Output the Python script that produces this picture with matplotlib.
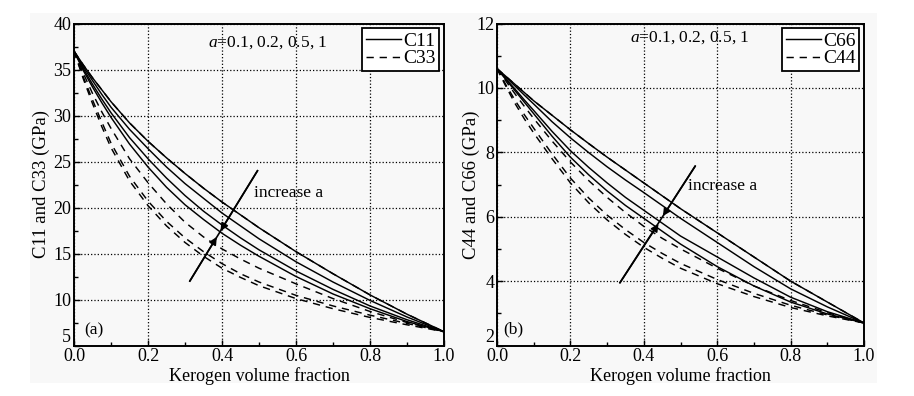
import matplotlib
matplotlib.use("Agg")
import matplotlib.pyplot as plt
from matplotlib.lines import Line2D
from matplotlib.patches import Rectangle
from matplotlib.ticker import MultipleLocator

plt.rcParams['font.family'] = ['Liberation Serif', 'DejaVu Serif']
plt.rcParams['mathtext.fontset'] = 'custom'
plt.rcParams['mathtext.rm'] = 'Liberation Serif'
plt.rcParams['mathtext.it'] = 'Liberation Serif:italic'

# ---------------- data ----------------
frac = [0, 0.025, 0.05, 0.075, 0.1, 0.15, 0.2, 0.25, 0.3, 0.35, 0.4, 0.45, 0.5,
        0.6, 0.7, 0.8, 0.9, 1.0]
aspect_labels = ['1', '0.5', '0.2', '0.1']

# panel (a)
c11_a1  = [37, 35.5, 34.1, 32.8, 31.5, 29.2, 27.2, 25.4, 23.7, 22.1, 20.6, 19.2, 17.8, 15.2, 12.8, 10.5, 8.4, 6.5]
c11_a05 = [37, 35.3, 33.8, 32.3, 30.9, 28.5, 26.4, 24.4, 22.6, 21.0, 19.4, 18.0, 16.6, 14.1, 11.9, 9.9, 8.1, 6.5]
c11_a02 = [37, 35.1, 33.4, 31.8, 30.3, 27.6, 25.3, 23.2, 21.3, 19.6, 18.1, 16.7, 15.4, 13.1, 11.1, 9.3, 7.8, 6.5]
c11_a01 = [37, 34.9, 33.1, 31.4, 29.8, 26.9, 24.4, 22.2, 20.3, 18.7, 17.2, 15.9, 14.7, 12.5, 10.6, 9.0, 7.6, 6.5]
c33_a1  = [37, 35.5, 34.1, 32.8, 31.5, 29.2, 27.2, 25.4, 23.7, 22.1, 20.6, 19.2, 17.8, 15.2, 12.8, 10.5, 8.4, 6.5]
c33_a05 = [37, 34.6, 32.4, 30.4, 28.6, 25.3, 22.7, 20.4, 18.4, 16.8, 15.5, 14.4, 13.4, 11.7, 10.1, 8.7, 7.5, 6.5]
c33_a02 = [37, 34.2, 31.7, 29.3, 27.0, 23.4, 20.7, 18.5, 16.7, 15.2, 13.9, 12.8, 11.9, 10.45, 9.3, 8.3, 7.4, 6.5]
c33_a01 = [37, 34.0, 31.3, 28.8, 26.5, 22.9, 20.2, 18.0, 16.2, 14.7, 13.4, 12.4, 11.5, 10.1, 9.0, 8.05, 7.25, 6.5]

# panel (b)
c66_a1  = [10.6, 10.35, 10.1, 9.85, 9.6, 9.15, 8.7, 8.27, 7.85, 7.45, 7.05, 6.65, 6.25, 5.5, 4.75, 4.0, 3.35, 2.7]
c66_a05 = [10.6, 10.32, 10.05, 9.77, 9.5, 8.95, 8.45, 7.99, 7.55, 7.14, 6.75, 6.35, 5.95, 5.2, 4.45, 3.76, 3.2, 2.7]
c66_a02 = [10.6, 10.27, 9.95, 9.62, 9.3, 8.65, 8.05, 7.53, 7.05, 6.6, 6.2, 5.8, 5.4, 4.75, 4.1, 3.5, 3.05, 2.7]
c66_a01 = [10.6, 10.25, 9.9, 9.55, 9.2, 8.5, 7.85, 7.3, 6.8, 6.35, 5.95, 5.55, 5.15, 4.45, 3.85, 3.35, 2.98, 2.7]
c44_a1  = [10.6, 10.35, 10.1, 9.85, 9.6, 9.15, 8.7, 8.27, 7.85, 7.45, 7.05, 6.65, 6.25, 5.5, 4.75, 4.0, 3.35, 2.7]
c44_a05 = [10.6, 10.2, 9.8, 9.42, 9.05, 8.35, 7.7, 7.12, 6.6, 6.13, 5.7, 5.33, 5.0, 4.4, 3.85, 3.4, 3.02, 2.7]
c44_a02 = [10.6, 10.08, 9.6, 9.16, 8.75, 7.95, 7.2, 6.58, 6.05, 5.6, 5.2, 4.86, 4.55, 4.05, 3.62, 3.25, 2.95, 2.7]
c44_a01 = [10.6, 10.03, 9.5, 9.03, 8.6, 7.8, 7.05, 6.43, 5.9, 5.45, 5.05, 4.71, 4.4, 3.92, 3.52, 3.18, 2.92, 2.7]

xticks = [0.0, 0.2, 0.4, 0.6, 0.8, 1.0]
xticklabels = ['0.0', '0.2', '0.4', '0.6', '0.8', '1.0']
yticks_a = [5, 10, 15, 20, 25, 30, 35, 40]
yticks_b = [2, 4, 6, 8, 10, 12]

# ---------------- figure ----------------
W, H = 914, 396
fig = plt.figure(figsize=(W / 100, H / 100), dpi=100)
fig.patch.set_facecolor('white')
fig.patches.append(Rectangle((30 / W, 1 - 383 / H), (877 - 30) / W, (383 - 13) / H,
                             transform=fig.transFigure, facecolor='#f8f8f8',
                             edgecolor='none', zorder=-10))

ax1 = fig.add_axes([74 / W, (H - 345.5) / H, 370 / W, 322 / H])
ax2 = fig.add_axes([497 / W, (H - 345.5) / H, 367 / W, 322 / H])

solid_kw = dict(color='black', lw=1.05, linestyle='-')
dash_kw = dict(color='black', lw=1.05, linestyle=(0, (5, 4)))


def style(ax, ylim, yticks, yminor, ylabel, ylabpad):
    ax.set_facecolor('none')
    ax.set_xlim(0, 1)
    ax.set_ylim(*ylim)
    ax.set_xticks(xticks)
    ax.set_xticklabels(xticklabels)
    ax.set_yticks(yticks)
    ax.xaxis.set_minor_locator(MultipleLocator(0.1))
    ax.yaxis.set_minor_locator(MultipleLocator(yminor))
    ax.tick_params(which='both', direction='in', top=False, right=False,
                   labelsize=13, colors='black', pad=2)
    ax.tick_params(which='major', length=4, width=1)
    ax.tick_params(which='minor', length=3, width=1)
    ax.grid(True, which='major', color='black', linestyle=':', lw=0.9)
    for s in ax.spines.values():
        s.set_linewidth(1.4)
        s.set_color('black')
    ax.set_xlabel('Kerogen volume fraction', fontsize=13, labelpad=1)
    ax.set_ylabel(ylabel, fontsize=13.5, labelpad=ylabpad)


# panel (a)
for ys in [c11_a1, c11_a05, c11_a02, c11_a01]:
    ax1.plot(frac, ys, **solid_kw)
for ys in [c33_a1, c33_a05, c33_a02, c33_a01]:
    ax1.plot(frac, ys, **dash_kw)
style(ax1, (5, 40), yticks_a, 2.5, 'C11 and C33 (GPa)', 2.5)
ax1.yaxis.get_major_ticks()[0].label1.set_verticalalignment('bottom')

# panel (b)
for ys in [c66_a1, c66_a05, c66_a02, c66_a01]:
    ax2.plot(frac, ys, **solid_kw)
for ys in [c44_a1, c44_a05, c44_a02, c44_a01]:
    ax2.plot(frac, ys, **dash_kw)
style(ax2, (2, 12), yticks_b, 1, 'C44 and C66 (GPa)', -2.5)
ax2.yaxis.get_major_ticks()[0].label1.set_verticalalignment('bottom')


def legend(ax, l1, l2):
    h = [Line2D([], [], **solid_kw), Line2D([], [], **dash_kw)]
    lg = ax.legend(h, [l1, l2], loc='upper right', fontsize=14,
                   frameon=True, fancybox=False, framealpha=1,
                   edgecolor='black', facecolor='white',
                   handlelength=1.8, handletextpad=0.1, labelspacing=0.0,
                   borderpad=0.2, borderaxespad=0.25)
    lg.get_frame().set_linewidth(1.3)


legend(ax1, 'C11', 'C33')
legend(ax2, 'C66', 'C44')

a_text = r'$a$=0.1, 0.2, 0.5, 1'
ax1.text(0.362, 37.9, a_text, fontsize=12.5, va='center', ha='left')
ax2.text(0.362, 11.56, a_text, fontsize=12.5, va='center', ha='left')

ax1.text(0.028, 6.6, '(a)', fontsize=12.5, va='center', ha='left')
ax2.text(0.016, 2.5, '(b)', fontsize=12.5, va='center', ha='left')


def arrow(ax, p0, p1, t1, t2, tp, txt='increase a'):
    ax.plot([p0[0], p1[0]], [p0[1], p1[1]], color='black', lw=1.2)
    ax.annotate('', xy=t1, xytext=p0,
                arrowprops=dict(arrowstyle='-|>', color='black', lw=1.2,
                                mutation_scale=11, shrinkA=0, shrinkB=0))
    ax.annotate('', xy=t2, xytext=p1,
                arrowprops=dict(arrowstyle='-|>', color='black', lw=1.2,
                                mutation_scale=11, shrinkA=0, shrinkB=0))
    ax.text(tp[0], tp[1], txt, fontsize=12.5, va='center', ha='left')


arrow(ax1, (0.313, 12.0), (0.496, 24.0), (0.386, 16.8), (0.396, 17.45), (0.486, 21.6))
arrow(ax2, (0.335, 3.95), (0.54, 7.57), (0.44, 5.78), (0.452, 6.02), (0.521, 6.95))

fig.savefig('out.png', dpi=100, facecolor=fig.get_facecolor())
